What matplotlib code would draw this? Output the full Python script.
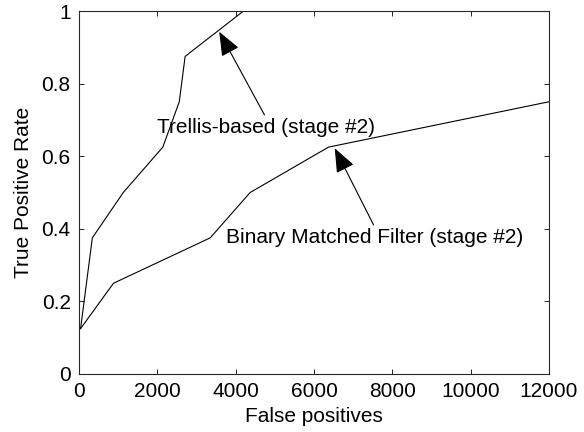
import matplotlib.pyplot as plt
from matplotlib.ticker import FormatStrFormatter

# ROC points
trellis_fp = [40, 340, 1130, 2140, 2560, 2710, 4200]
trellis_tpr = [0.125, 0.375, 0.5, 0.625, 0.75, 0.875, 1.0]

binary_fp = [40, 880, 3350, 4370, 6370, 12000]
binary_tpr = [0.125, 0.25, 0.375, 0.5, 0.625, 0.75]

x_ticks = [0, 2000, 4000, 6000, 8000, 10000, 12000]
y_ticks = [0, 0.2, 0.4, 0.6, 0.8, 1.0]

plt.rcParams['font.family'] = ['Liberation Sans', 'DejaVu Sans']
plt.rcParams['font.size'] = 15

fig = plt.figure(figsize=(5.84, 4.32), dpi=100)
ax = fig.add_axes([0.1353, 0.1343, 0.8047, 0.8402])

ax.plot(trellis_fp, trellis_tpr, color='black', linewidth=0.8)
ax.plot(binary_fp, binary_tpr, color='black', linewidth=0.8)

# arrows from the top centre of each label
arrow = dict(arrowstyle='-|>,head_length=1.0,head_width=0.4', color='black',
             linewidth=0.8, relpos=(0.5, 1.0), shrinkA=0, shrinkB=0)
ax.annotate('Trellis-based (stage #2)', xy=(3580, 0.943), xytext=(4774, 0.68),
            ha='center', va='center', arrowprops=arrow)
ax.annotate('Binary Matched Filter (stage #2)', xy=(6530, 0.622), xytext=(7557, 0.377),
            ha='center', va='center', arrowprops=arrow)

ax.set_xlim(0, 12000)
ax.set_ylim(0, 1)
ax.set_xticks(x_ticks)
ax.set_yticks(y_ticks)
ax.yaxis.set_major_formatter(FormatStrFormatter('%g'))
ax.tick_params(direction='in', top=True, right=True, length=3.5, width=0.6, pad=6)
for spine in ax.spines.values():
    spine.set_linewidth(0.8)
    spine.set_color('#262626')

ax.set_xlabel('False positives', labelpad=4)
ax.set_ylabel('True Positive Rate', labelpad=6)

fig.savefig('out.png', dpi=100)
